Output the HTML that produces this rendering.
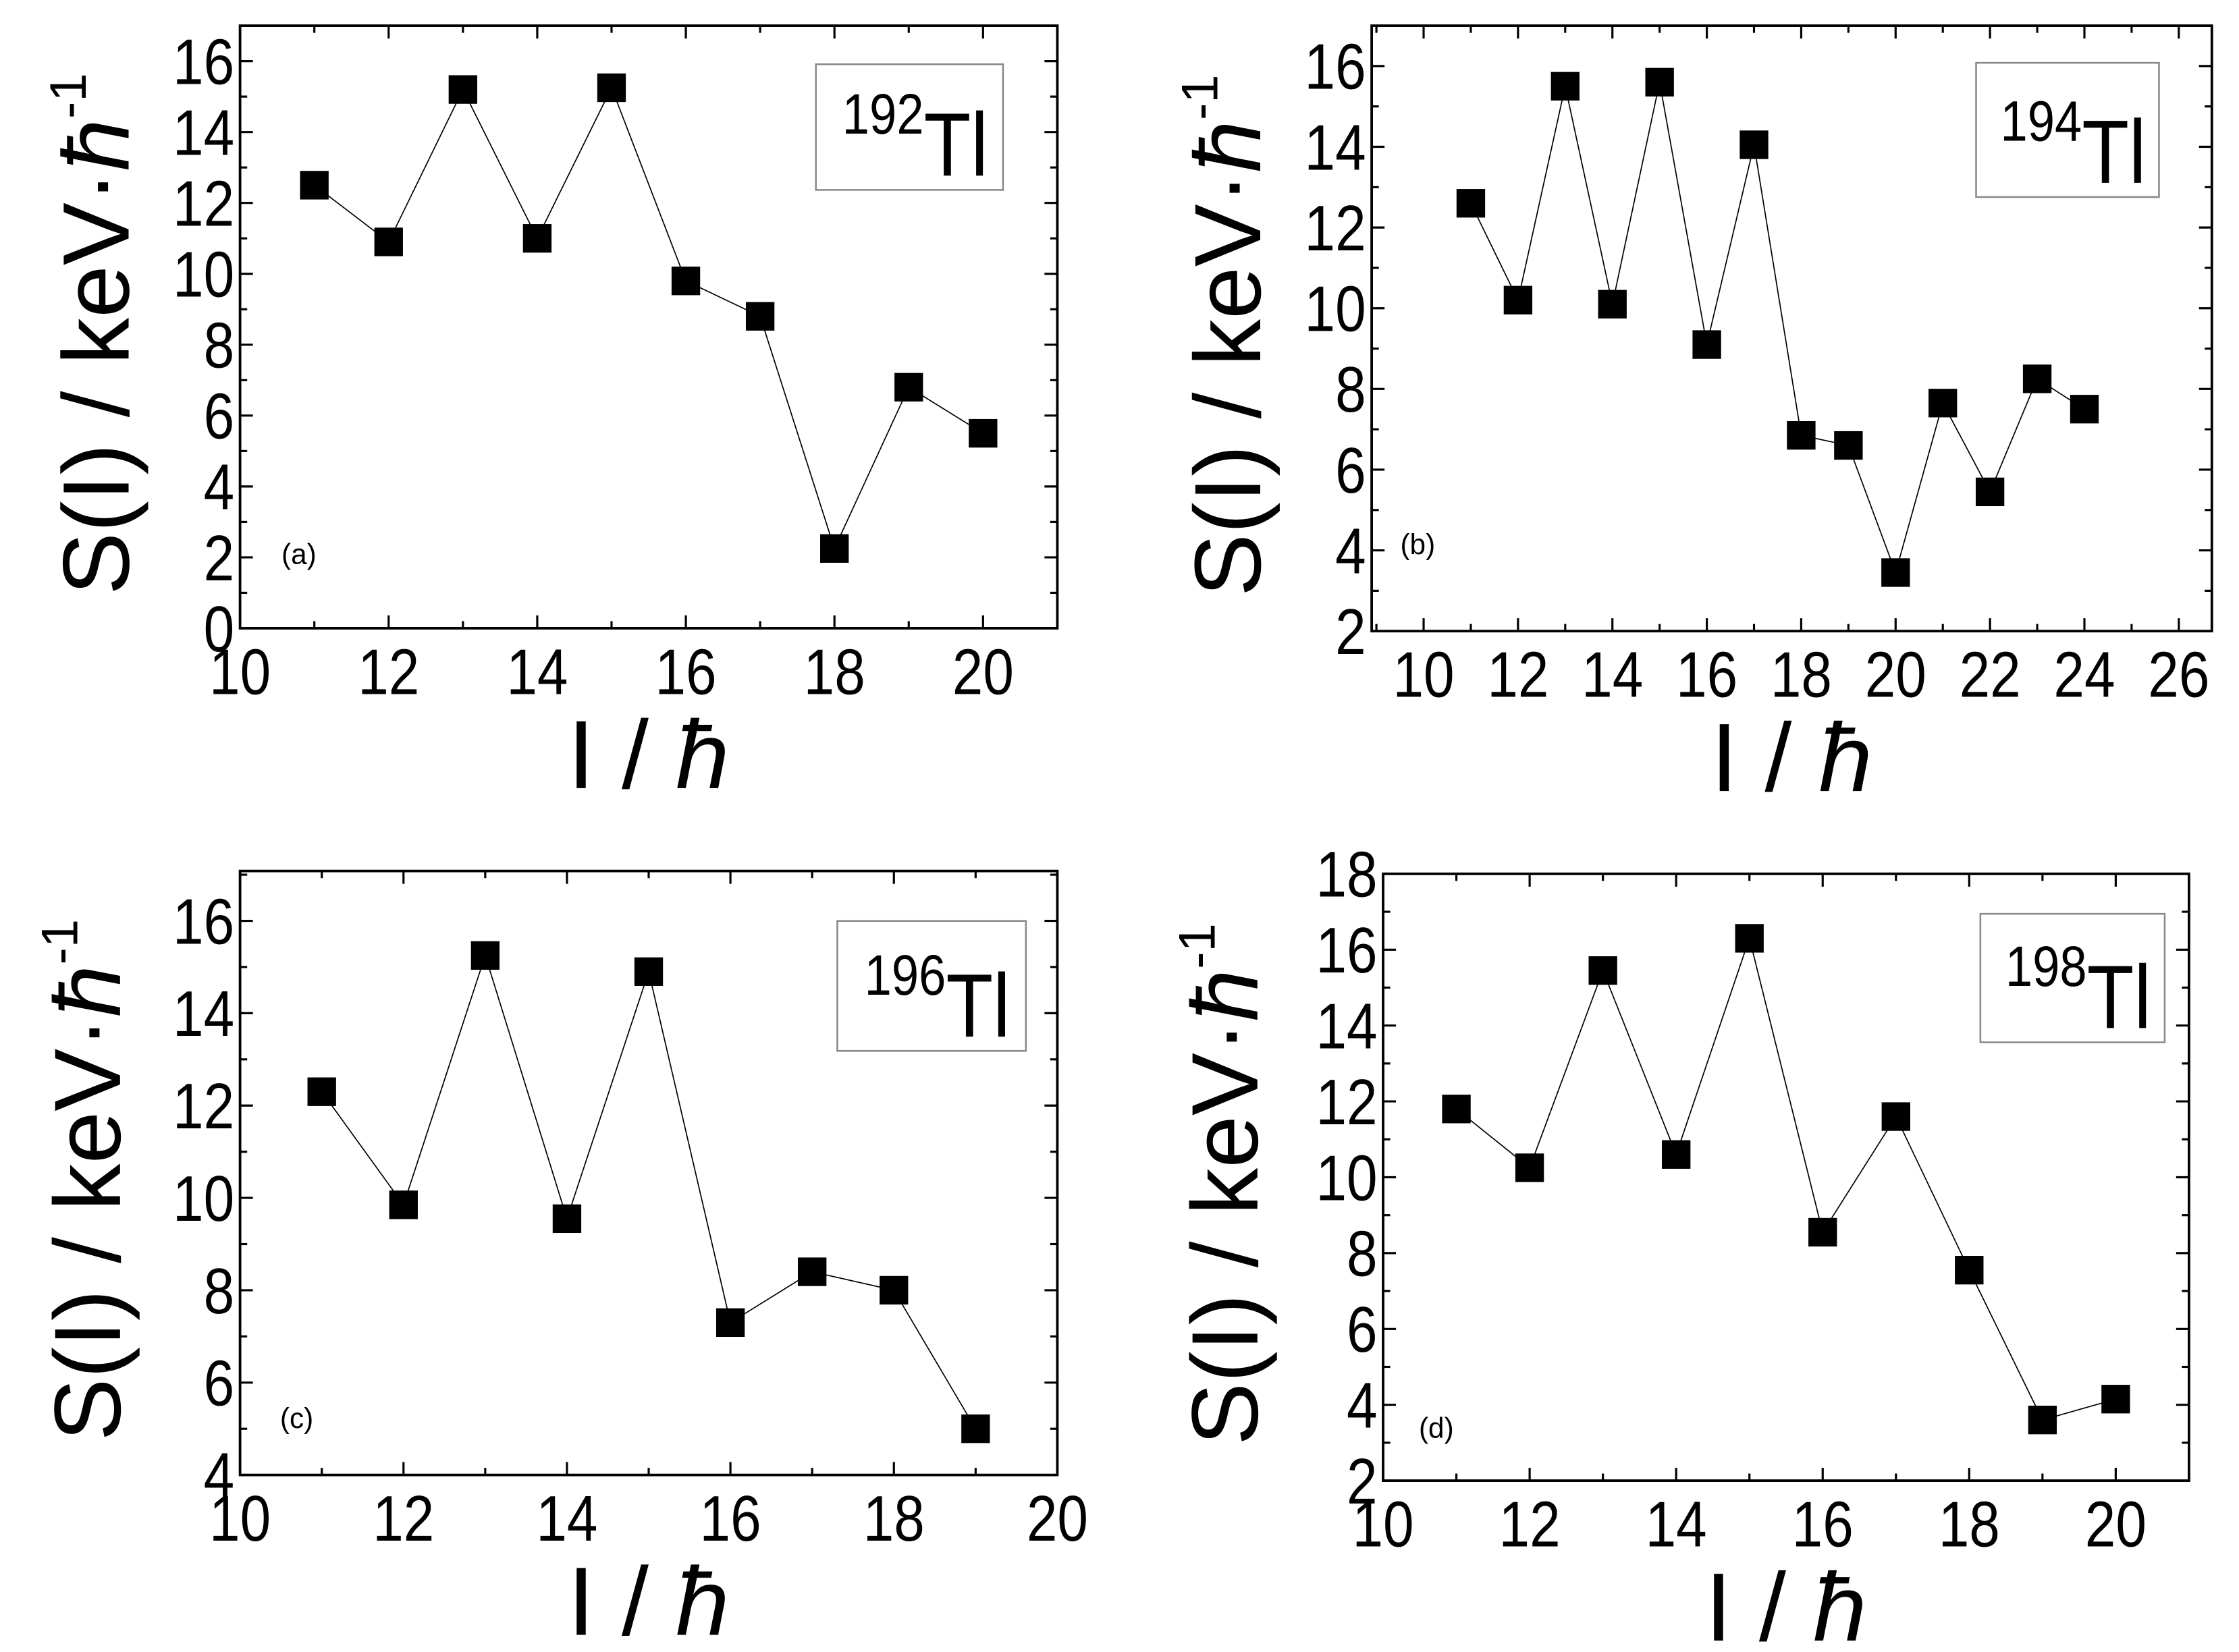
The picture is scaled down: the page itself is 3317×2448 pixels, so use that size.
<!DOCTYPE html>
<html><head><meta charset="utf-8"><style>
html,body{margin:0;padding:0;background:#fff;}
svg{display:block;}
text{font-family:"Liberation Sans",sans-serif;fill:#000;}
</style></head><body>
<svg id="fig" width="3317" height="2448" viewBox="0 0 1567 1157" preserveAspectRatio="none" xmlns="http://www.w3.org/2000/svg"></svg>
<script>
// Panel (a) 192Tl
const spinsA = [11,12,13,14,15,16,17,18,19,20];
const valuesA = [12.5,10.9,15.2,11.0,15.25,9.8,8.8,2.25,6.8,5.5];
const xTicksA = [10,12,14,16,18,20];
const yTicksA = [0,2,4,6,8,10,12,14,16];
// Panel (b) 194Tl
const spinsB = [11,12,13,14,15,16,17,18,19,20,21,22,23,24];
const valuesB = [12.6,10.2,15.5,10.1,15.6,9.1,14.05,6.85,6.6,3.45,7.65,5.45,8.25,7.5];
const xTicksB = [10,12,14,16,18,20,22,24,26];
const yTicksB = [2,4,6,8,10,12,14,16];
// Panel (c) 196Tl
const spinsC = [11,12,13,14,15,16,17,18,19];
const valuesC = [12.3,9.85,15.25,9.55,14.9,7.3,8.4,8.0,5.0];
const xTicksC = [10,12,14,16,18,20];
const yTicksC = [4,6,8,10,12,14,16];
// Panel (d) 198Tl
const spinsD = [11,12,13,14,15,16,17,18,19,20];
const valuesD = [11.8,10.25,15.45,10.6,16.3,8.55,11.6,7.55,3.6,4.15];
const xTicksD = [10,12,14,16,18,20];
const yTicksD = [2,4,6,8,10,12,14,16,18];

const NS = "http://www.w3.org/2000/svg";
const svg = document.getElementById('fig');
function mk(tag, attrs, parent){ const e=document.createElementNS(NS,tag); for(const k in attrs) e.setAttribute(k,attrs[k]); (parent||svg).appendChild(e); return e; }

function panel(cfg){
  const g = mk('g',{});
  
  
  const {L,R,T,B,x0,x1,y0,y1} = cfg;
  const sx = v => L + (v-x0)/(x1-x0)*(R-L);
  const sy = v => B - (v-y0)/(y1-y0)*(B-T);
  for(let v=Math.ceil(x0); v<=x1; v+=1){
    const maj = cfg.xTicks.includes(v); const len = maj?9:5;
    mk('line',{x1:sx(v),x2:sx(v),y1:B,y2:B-len,stroke:'#000','stroke-width':1.5},g);
    mk('line',{x1:sx(v),x2:sx(v),y1:T,y2:T+len,stroke:'#000','stroke-width':1.5},g);
  }
  for(let v=y0; v<=y1+1e-9; v+=1){
    const maj = cfg.yTicks.includes(v); const len = maj?9:5;
    mk('line',{x1:L,x2:L+len,y1:sy(v),y2:sy(v),stroke:'#000','stroke-width':1.5},g);
    mk('line',{x1:R,x2:R-len,y1:sy(v),y2:sy(v),stroke:'#000','stroke-width':1.5},g);
  }
  const frame = mk('rect',{x:L,y:T,width:R-L,height:B-T,fill:'none',stroke:'#000','stroke-width':1.8},g);
  
  
  cfg.xTicks.forEach(v=>{
    const t = mk('text',{x:sx(v),y:B+46,'font-size':45,'text-anchor':'middle',transform:`translate(${sx(v)},0) scale(0.86,1) translate(${-sx(v)},0)`},g);
    t.textContent = v;
    
    
  });
  cfg.yTicks.forEach(v=>{
    const xx = L-4;
    const t = mk('text',{x:xx,y:sy(v)+16,'font-size':45,'text-anchor':'end',transform:`translate(${xx},0) scale(0.86,1) translate(${-xx},0)`},g);
    t.textContent = v;
    
    
  });
  const pts = cfg.xs.map((x,i)=>sx(x)+','+sy(cfg.ys[i])).join(' ');
  const pl = mk('polyline',{points:pts,fill:'none',stroke:'#000','stroke-width':0.8},g);
  
  
  cfg.xs.forEach((x,i)=>{
    const r = mk('rect',{x:sx(x)-10,y:sy(cfg.ys[i])-10,width:20,height:20,fill:'#000'},g);
    
    
  });
  const lb = mk('rect',{x:cfg.leg[0],y:cfg.leg[1],width:cfg.leg[2],height:cfg.leg[3],fill:'#fff',stroke:'#888','stroke-width':1.2},g);
  
  
  const cx = cfg.leg[0]+cfg.leg[2]/2, by = cfg.leg[1]+cfg.leg[3]-10;
  const lt = mk('text',{x:0,y:0,'font-size':60,'text-anchor':'middle',transform:`translate(${cx+4},${by}) scale(0.9,1.05)`},g);
  
  
  const sup = mk('tspan',{'font-size':38,dy:-28},lt); sup.textContent = cfg.iso;
  const tl = mk('tspan',{dy:28},lt); tl.textContent = 'Tl';
  const pt = mk('text',{x:cfg.letter[0],y:cfg.letter[1],'font-size':20},g);
  pt.textContent = '('+cfg.id+')';
  
  
  const xt = mk('text',{x:(L+R)/2,y:B+112,'font-size':68,'text-anchor':'middle'},g);
  
  
  const x1s = mk('tspan',{},xt); x1s.textContent = 'I / ';
  const x2s = mk('tspan',{'font-style':'italic'},xt); x2s.textContent = 'ħ';
  const yx = cfg.ytx, yy = (T+B)/2 + 5;
  const yt = mk('text',{x:0,y:0,'font-size':66,'text-anchor':'middle',transform:`translate(${yx},${yy}) rotate(-90)`},g);
  
  
  const a = mk('tspan',{},yt); a.textContent = 'S(I) / keV·';
  const a2 = mk('tspan',{'font-style':'italic'},yt); a2.textContent = 'ħ';
  const b = mk('tspan',{'font-size':36,dy:-30},yt); b.textContent = '-1';
}

panel({id:'a',L:168,R:740,T:18,B:440,x0:10,x1:21,y0:0,y1:17,xTicks:xTicksA,yTicks:yTicksA,xs:spinsA,ys:valuesA,leg:[571,45,131,88],iso:'192',letter:[197,395],ytx:90});
panel({id:'b',L:960,R:1548,T:18,B:442,x0:8.9,x1:26.7,y0:2,y1:17,xTicks:xTicksB,yTicks:yTicksB,xs:spinsB,ys:valuesB,leg:[1383,44,128,94],iso:'194',letter:[980,388],ytx:882});
panel({id:'c',L:168,R:740,T:610,B:1033,x0:10,x1:20,y0:4,y1:17.08,xTicks:xTicksC,yTicks:yTicksC,xs:spinsC,ys:valuesC,leg:[586,645,132,91],iso:'196',letter:[196,1000],ytx:84});
panel({id:'d',L:968,R:1532,T:612,B:1037,x0:10,x1:21,y0:2,y1:18,xTicks:xTicksD,yTicks:yTicksD,xs:spinsD,ys:valuesD,leg:[1386,640,129,90],iso:'198',letter:[993,1007],ytx:880});
</script>
</body></html>
